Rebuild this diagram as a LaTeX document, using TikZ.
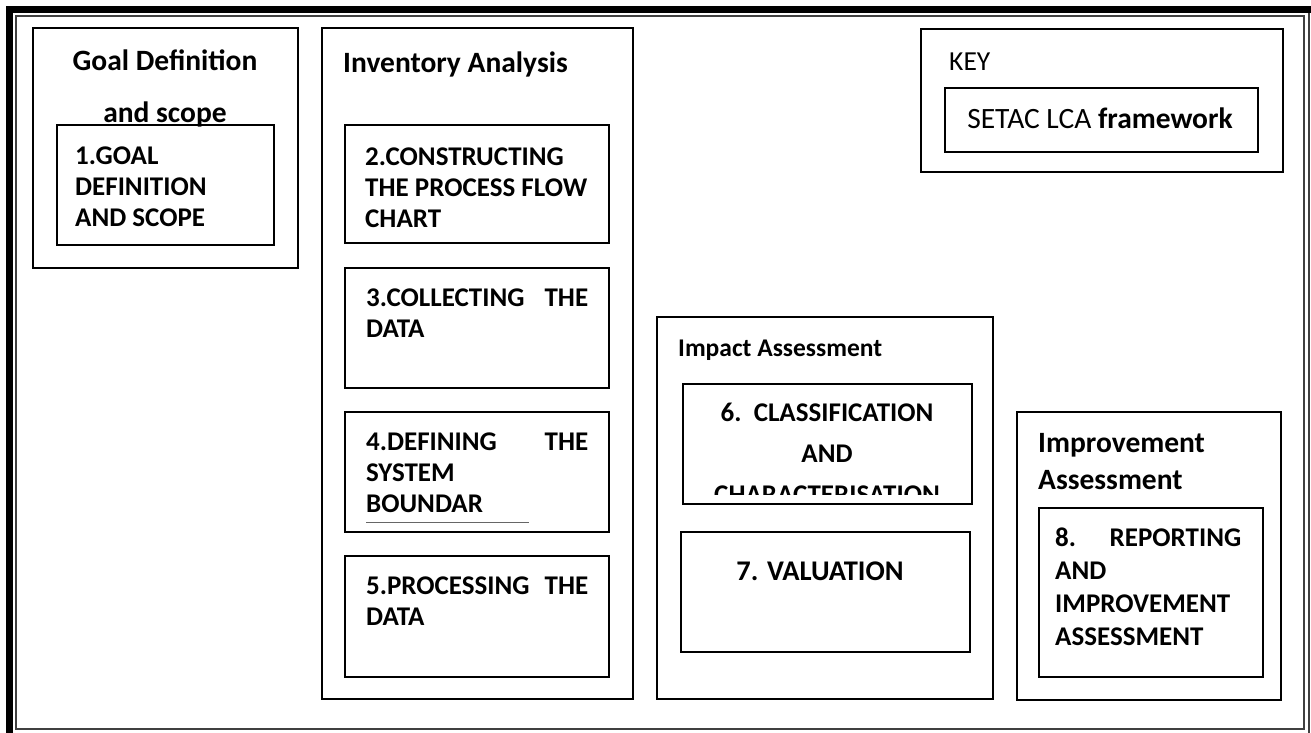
\documentclass[tikz,border=0pt]{standalone}
\usepackage{fontspec}
\setmainfont{Carlito}
\usetikzlibrary{fit,positioning}

\begin{document}
\begin{tikzpicture}[x=1pt, y=-1pt,
  box/.style={draw, line width=1.5pt, inner sep=0pt},
  txt/.style={inner sep=0pt, anchor=north west, align=left,
    font=\fontsize{27}{31}\selectfont\bfseries},
  head/.style={txt, font=\fontsize{29.5}{37}\selectfont\bfseries},
  jtxt/.style={txt, text width=#1, align=justify},
  ctxt/.style={txt, anchor=north, align=center}]
\useasboundingbox (0,0) rectangle (1311,733);

% page border
\draw[line width=7pt] (9.5,733) -- (9.5,9.5) -- (1311,9.5);
\draw[line width=1.5pt, black!75] (16,16) rectangle (1304,729);
\draw[line width=1.2pt, black!75] (1309,13) -- (1309,733);

% stage frames
\node[box, fit={(33,28) (298,268)}] (goal) {};
\node[box, fit={(322,28) (633,699)}] (inv) {};
\node[box, fit={(657,317) (993,699)}] (impact) {};
\node[box, fit={(1017,412) (1281,700)}] (improve) {};
\node[box, fit={(921,29) (1283,172)}] (key) {};

% steps
\node[box, fit={(57,125) (274,245)}] (s1) {};
\node[box, fit={(345,125) (609,243)}] (s2) {};
\node[box, fit={(345,268) (609,388)}] (s3) {};
\node[box, fit={(345,412) (609,532)}] (s4) {};
\node[box, fit={(345,556) (609,677)}] (s5) {};
\node[box, fit={(683,384) (972,504)}] (s6) {};
\node[box, fit={(681,532) (970,652)}] (s7) {};
\node[box, fit={(1039,508) (1263,677)}] (s8) {};
\node[box, fit={(945,88) (1258,152)}] (keyin) {};

% headings
\node[head, anchor=north, align=center] (goaltitle) at (165,50) {Goal Definition\\[15pt]and scope};
\node[head] (invtitle) at (343,52) {Inventory Analysis};
\node[txt, font=\fontsize{25.5}{31}\selectfont\bfseries] (imptitle) at (678,340) {Impact Assessment};
\node[head] (imprtitle) at (1038,433) {Improvement\\Assessment};
\node[txt, font=\fontsize{27.5}{31}\selectfont] (keytitle) at (949,53) {KEY};
\node[ctxt, font=\fontsize{29.5}{31}\selectfont] (keytext) at (1100,108) {SETAC LCA \textbf{framework}};

% step texts
\node[txt] (t1) at (75,147) {1.GOAL\\DEFINITION\\AND SCOPE};
\node[jtxt=222pt] (t2) at (365,148) {2.CONSTRUCTING\\THE\hfill PROCESS\hfill FLOW\\CHART};
\node[jtxt=222pt] (t3) at (366,289) {3.COLLECTING\hfill THE\\DATA};
\node[jtxt=222pt] (t4) at (366,433) {4.DEFINING\hfill THE\\SYSTEM\\BOUNDAR};
\draw[black!60, line width=1pt] (366,522) -- (529,522);
\node[jtxt=222pt] (t5) at (366,577) {5.PROCESSING\hfill THE\\DATA};
\begin{scope}
\clip (683,384) rectangle (972,494);
\node[ctxt, font=\fontsize{27}{41}\selectfont\bfseries] (t6) at (827,403) {6.\ \ CLASSIFICATION\\AND\\CHARACTERISATION};
\end{scope}
\node[ctxt, font=\fontsize{28.5}{31}\selectfont\bfseries] (t7) at (820,562) {7. VALUATION};
\node[jtxt=186pt, font=\fontsize{27}{33}\selectfont\bfseries] (t8) at (1055,528) {8.\hfill REPORTING\\AND\\IMPROVEMENT\\ASSESSMENT};
\end{tikzpicture}
\end{document}
